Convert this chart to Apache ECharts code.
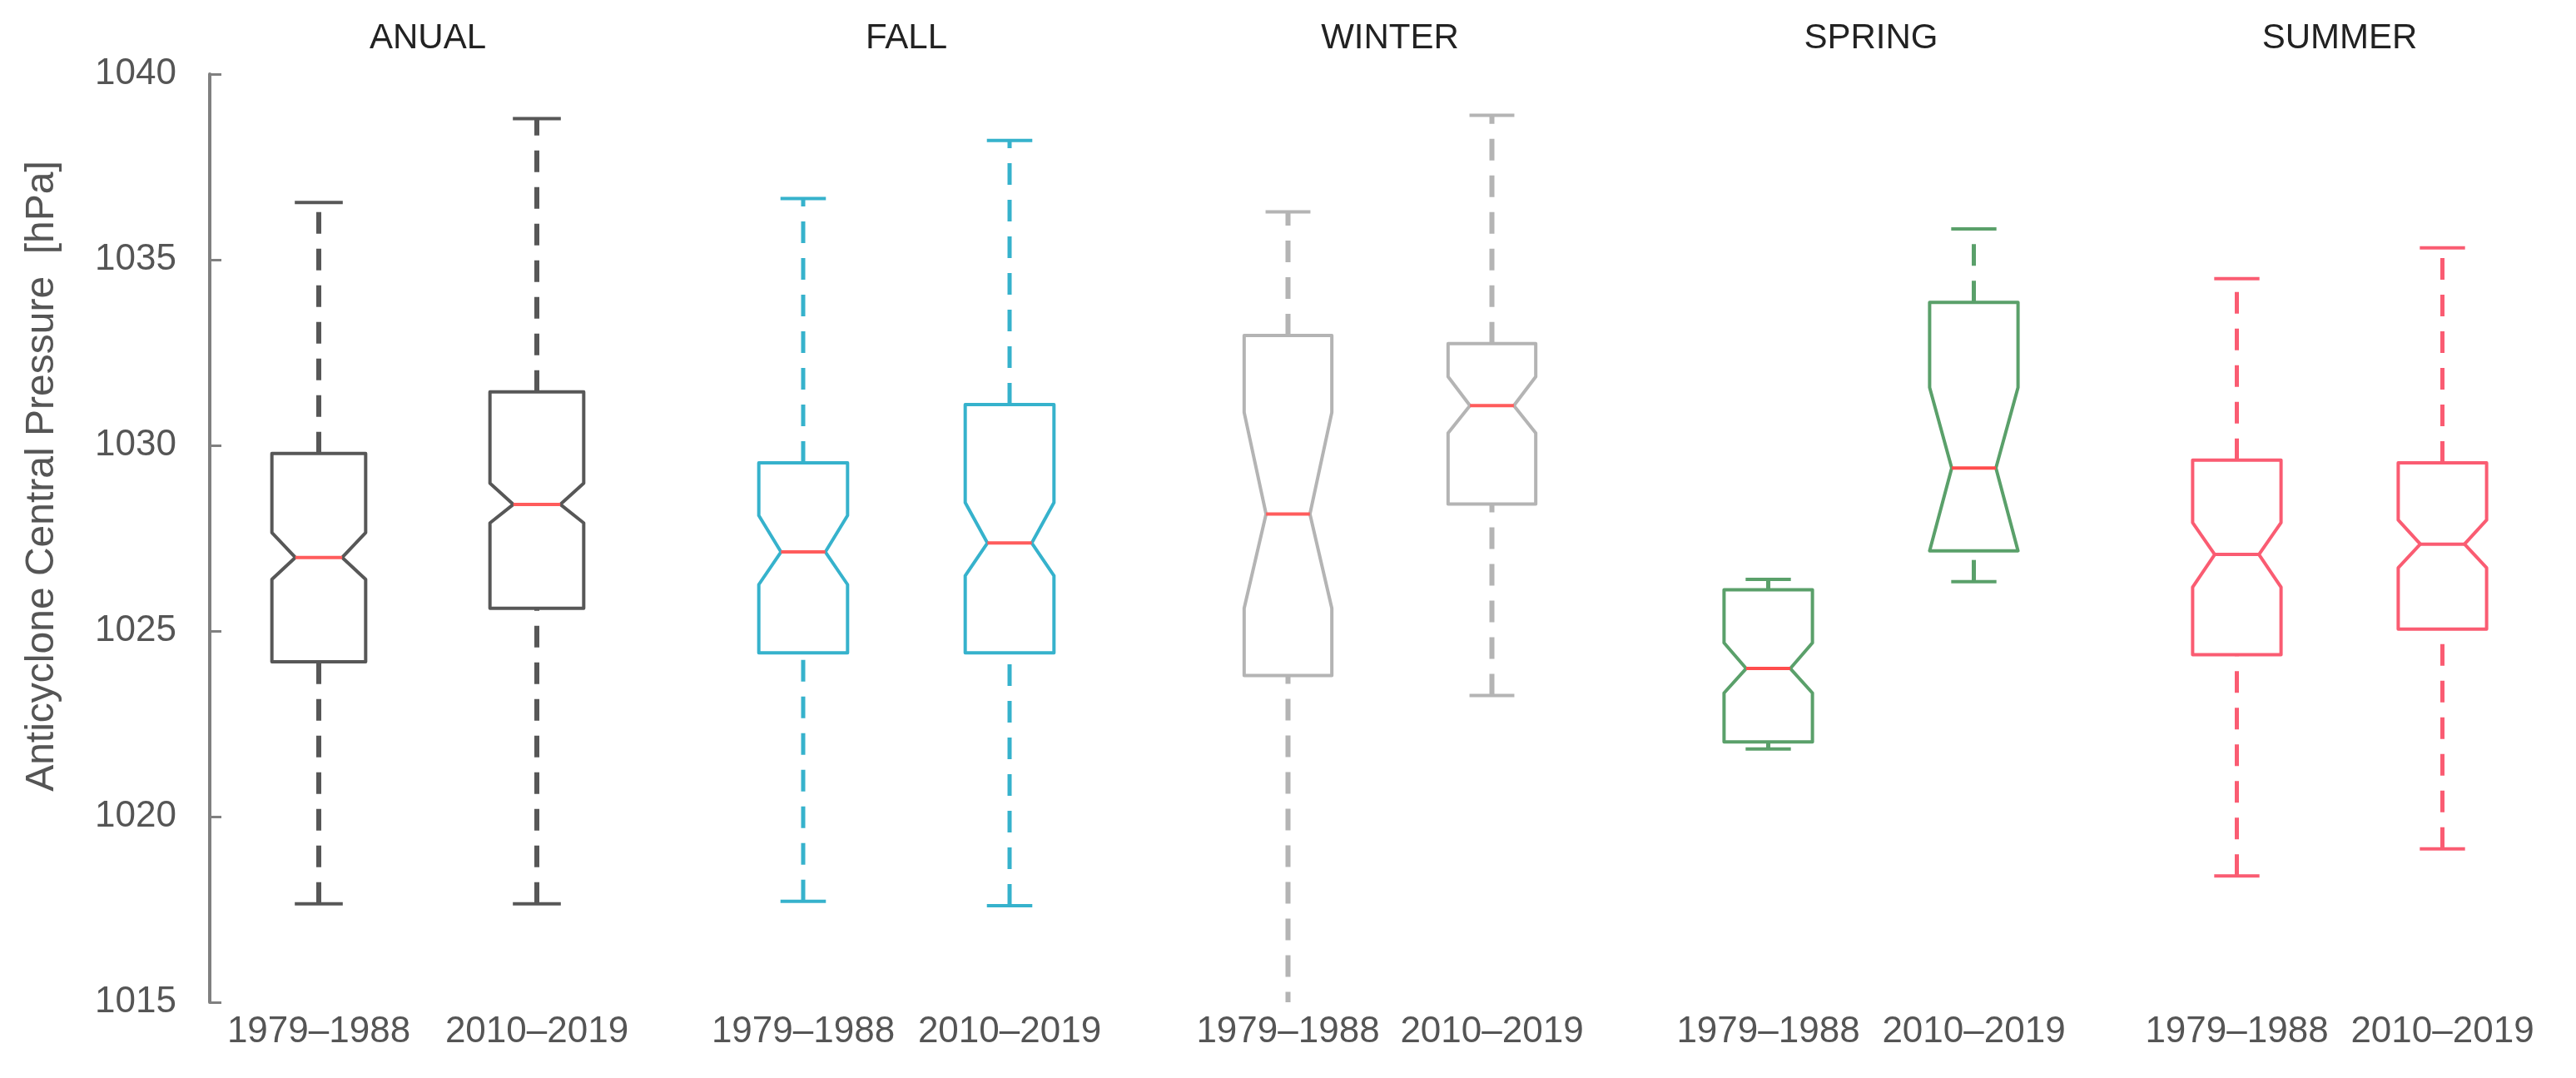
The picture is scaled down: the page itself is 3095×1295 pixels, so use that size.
<!DOCTYPE html>
<html><head><meta charset="utf-8">
<script src="https://cdn.jsdelivr.net/npm/echarts@6/dist/echarts.min.js"></script>
<style>html,body{margin:0;padding:0;background:#fff}#c{width:3095px;height:1295px}</style>
</head><body><div id="c"></div><script>
// ---- data ----
const periods = ['1979\u20131988', '2010\u20132019'];
const seasons = ['ANUAL', 'FALL', 'WINTER', 'SPRING', 'SUMMER'];
const yTicks = [1015, 1020, 1025, 1030, 1035, 1040];
// each row: [whiskerLow, Q1, notchLow, median, notchHigh, Q3, whiskerHigh]
const anual  = [[1017.65, 1024.17, 1026.39, 1026.98, 1027.65, 1029.78, 1036.54],
                [1017.65, 1025.61, 1027.91, 1028.41, 1028.98, 1031.44, 1038.80]];
const fall   = [[1017.72, 1024.41, 1026.25, 1027.13, 1028.11, 1029.53, 1036.65],
                [1017.60, 1024.41, 1026.49, 1027.37, 1028.46, 1031.10, 1038.21]];
const winter = [[1014.70, 1023.80, 1025.61, 1028.15, 1030.89, 1032.96, 1036.29],
                [1023.26, 1028.42, 1030.33, 1031.07, 1031.85, 1032.74, 1038.89]];
const spring = [[1021.82, 1022.01, 1023.33, 1023.99, 1024.68, 1026.11, 1026.39],
                [1026.33, 1027.16, 1027.16, 1029.39, 1031.56, 1033.85, 1035.83]];
const summer = [[1018.40, 1024.36, 1026.18, 1027.06, 1027.92, 1029.60, 1034.49],
                [1019.13, 1025.05, 1026.70, 1027.34, 1027.99, 1029.53, 1035.32]];
const seasonData = [anual, fall, winter, spring, summer];

// ---- styles ----
const boxColors = ['#575757', '#36b2cc', '#b4b4b4', '#5aa06a', '#fa5c72'];
const medianColors = ['#ff5c5c', '#ff5c5c', '#ff5c5c', '#ff4d4d', '#fa5c72'];
const whiskerWidths = [6, 5, 6, 5, 5];
const FONT = '"Liberation Sans", Arial, sans-serif';
const gridBoxes = [[252, 524], [841, 496], [1425, 490], [2001, 494], [2564, 494]];
const BOX_RATIO = 0.43, CAP_RATIO = 0.22, NOTCH_RATIO = 0.5;

function makeRender(si) {
  return function (params, api) {
    const x = api.value(0);
    const v = [1, 2, 3, 4, 5, 6, 7].map(k => api.value(k));
    const [wLo, q1, nLo, med, nHi, q3, wHi] = v;
    const cx = api.coord([x, med])[0];
    const y = val => api.coord([x, val])[1];
    const band = api.size([1, 0])[0];
    const hw = band * BOX_RATIO / 2, nw = hw * NOTCH_RATIO, cw = band * CAP_RATIO / 2;
    const col = boxColors[si];
    const lw = 4;
    const ww = whiskerWidths[si];
    const dash = [26, 18];
    return {
      type: 'group',
      children: [
        { type: 'line', shape: { x1: cx, y1: y(q3), x2: cx, y2: y(wHi) },
          style: { stroke: col, lineWidth: ww, lineDash: dash } },
        { type: 'line', shape: { x1: cx, y1: y(wLo), x2: cx, y2: y(q1) },
          style: { stroke: col, lineWidth: ww, lineDash: dash } },
        { type: 'line', shape: { x1: cx - cw, y1: y(wHi), x2: cx + cw, y2: y(wHi) },
          style: { stroke: col, lineWidth: lw } },
        { type: 'line', shape: { x1: cx - cw, y1: y(wLo), x2: cx + cw, y2: y(wLo) },
          style: { stroke: col, lineWidth: lw } },
        { type: 'polygon', shape: { points: [
            [cx - hw, y(q3)], [cx + hw, y(q3)], [cx + hw, y(nHi)], [cx + nw, y(med)],
            [cx + hw, y(nLo)], [cx + hw, y(q1)], [cx - hw, y(q1)], [cx - hw, y(nLo)],
            [cx - nw, y(med)], [cx - hw, y(nHi)] ] },
          style: { fill: '#ffffff', stroke: col, lineWidth: lw, lineJoin: 'round' } },
        { type: 'line', shape: { x1: cx - nw, y1: y(med), x2: cx + nw, y2: y(med) },
          style: { stroke: medianColors[si], lineWidth: 4 } }
      ]
    };
  };
}

const grids = gridBoxes.map(([l, w]) => ({ left: l, width: w, top: 89, bottom: 91 }));
const xAxes = [], yAxes = [], series = [];
seasons.forEach((s, i) => {
  xAxes.push({ type: 'category', gridIndex: i, data: periods, position: 'bottom',
    axisLine: { show: false }, axisTick: { show: false }, splitLine: { show: false },
    axisLabel: { interval: 0, fontSize: 44, color: '#555555', fontFamily: FONT, margin: 14 } });
  xAxes.push({ type: 'category', gridIndex: i, data: periods, position: 'top',
    axisLine: { show: false }, axisTick: { show: false }, axisLabel: { show: false }, splitLine: { show: false },
    name: s, nameLocation: 'middle', nameGap: 22,
    nameTextStyle: { fontSize: 42, color: '#222222', fontFamily: FONT } });
  yAxes.push({ type: 'value', gridIndex: i, min: yTicks[0], max: yTicks[yTicks.length - 1], interval: 5,
    show: i === 0,
    axisLine: { show: true, lineStyle: { color: '#808080', width: 4 } },
    axisTick: { show: true, inside: true, length: 14, lineStyle: { color: '#808080', width: 3 } },
    axisLabel: { fontSize: 44, color: '#555555', fontFamily: FONT, margin: 40,
      formatter: val => String(val) },
    splitLine: { show: false } });
  series.push({ type: 'custom', xAxisIndex: 2 * i, yAxisIndex: i, clip: true,
    renderItem: makeRender(i),
    encode: { x: 0, y: [1, 2, 3, 4, 5, 6, 7] },
    data: seasonData[i].map((d, k) => [k].concat(d)) });
});

const chart = echarts.init(document.getElementById('c'), null, { renderer: 'canvas' });
chart.setOption({
  animation: false,
  backgroundColor: '#ffffff',
  grid: grids, xAxis: xAxes, yAxis: yAxes, series: series,
  graphic: [{ type: 'text', x: 51, y: 572, rotation: Math.PI / 2,
    style: { text: 'Anticyclone Central Pressure  [hPa]', fontSize: 48, fontFamily: FONT,
      fill: '#555555', textAlign: 'center', textVerticalAlign: 'middle' } }]
});
</script></body></html>
